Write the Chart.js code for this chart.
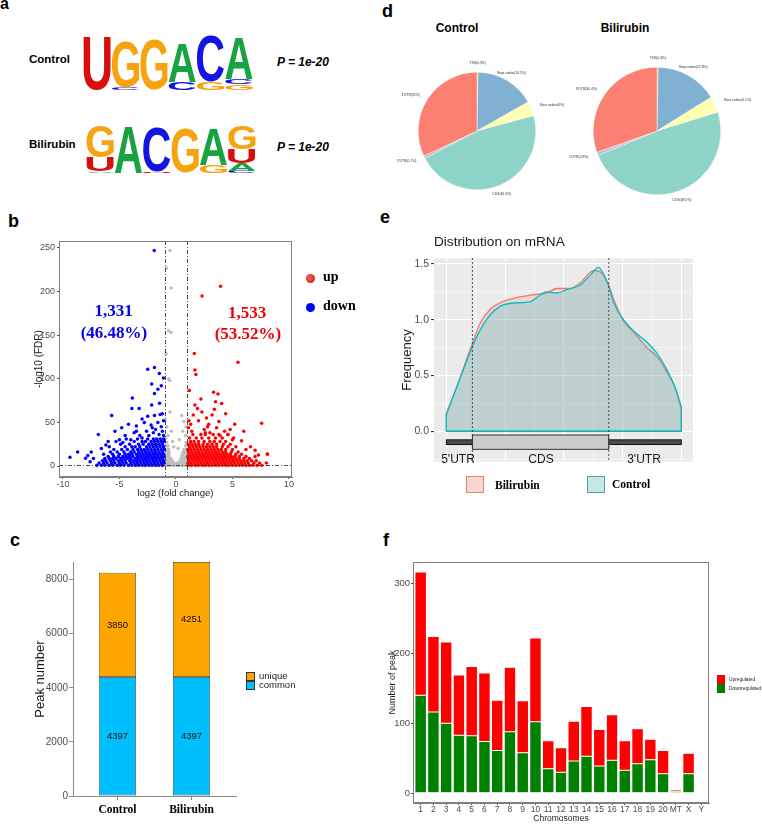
<!DOCTYPE html>
<html><head><meta charset="utf-8">
<script src="https://cdn.jsdelivr.net/npm/chart.js@4.4.1/dist/chart.umd.min.js"></script>
<style>
html,body{margin:0;padding:0;background:#fff;}
#page{position:relative;width:762px;height:824px;overflow:hidden;font-family:"Liberation Sans",Arial,sans-serif;color:#000;}
canvas{position:absolute;}
.t{position:absolute;white-space:nowrap;line-height:1;}
.c{transform:translate(-50%,-50%);}
.l{transform:translate(0,-50%);}
.pl{font-weight:bold;font-size:18px;}
.serif{font-family:"Liberation Serif","Times New Roman",serif;font-weight:bold;}
.box{position:absolute;box-sizing:border-box;}
</style></head><body><div id="page">

<!-- panel letters -->
<div class="t pl" style="left:0;top:-4px;font-size:16px">a</div>
<div class="t pl" style="left:8px;top:212px">b</div>
<div class="t pl" style="left:10px;top:531px">c</div>
<div class="t pl" style="left:382px;top:2px">d</div>
<div class="t pl" style="left:380px;top:208px">e</div>
<div class="t pl" style="left:383px;top:531px">f</div>

<!-- panel a texts -->
<div class="t l" style="left:29px;top:60px;font-weight:bold;font-size:11.5px">Control</div>
<div class="t l" style="left:29px;top:145px;font-weight:bold;font-size:11.5px">Bilirubin</div>
<div class="t l" style="left:277px;top:62px;font-weight:bold;font-style:italic;font-size:12px">P = 1e-20</div>
<div class="t l" style="left:277px;top:147px;font-weight:bold;font-style:italic;font-size:12px">P = 1e-20</div>
<canvas id="logoC" width="170" height="55" style="left:83px;top:35px"></canvas>
<canvas id="logoB" width="170" height="49" style="left:86px;top:124px"></canvas>

<!-- panel b -->
<canvas id="volcano" width="380" height="280" style="left:0;top:230px"></canvas>
<div class="t c serif" style="left:113.5px;top:310px;font-size:17px;color:#0000EE">1,331</div>
<div class="t c serif" style="left:114px;top:331.5px;font-size:17px;color:#0000EE">(46.48%)</div>
<div class="t c serif" style="left:247px;top:312px;font-size:17px;color:#EE0000">1,533</div>
<div class="t c serif" style="left:248px;top:333px;font-size:17px;color:#EE0000">(53.52%)</div>
<div class="box" style="left:305.5px;top:273.5px;width:9px;height:9px;border-radius:50%;background:radial-gradient(circle at 40% 40%,#ff5a5a,#cc1010)"></div>
<div class="box" style="left:305.5px;top:302.5px;width:9px;height:9px;border-radius:50%;background:#0000FF"></div>
<div class="t l serif" style="left:323px;top:277px;font-size:14px">up</div>
<div class="t l serif" style="left:323px;top:306px;font-size:14px">down</div>

<!-- panel c -->
<canvas id="peaks" width="380" height="284" style="left:0;top:540px"></canvas>
<div class="box" style="left:246px;top:672px;width:8.5px;height:9px;background:#FFA500;border:0.6px solid #333"></div>
<div class="box" style="left:246px;top:681px;width:8.5px;height:9px;background:#00BFFF;border:0.6px solid #333"></div>
<div class="t l" style="left:259px;top:676px;font-size:9.5px;color:#1a1a1a">unique</div>
<div class="t l" style="left:259px;top:685px;font-size:9.5px;color:#1a1a1a">common</div>

<!-- panel d -->
<div class="t c" style="left:457px;top:28px;font-weight:bold;font-size:12px">Control</div>
<div class="t c" style="left:625px;top:28px;font-weight:bold;font-size:12px">Bilirubin</div>
<canvas id="pieC" width="200" height="200" style="left:377px;top:31px"></canvas>
<canvas id="pieB" width="210" height="210" style="left:552px;top:26px"></canvas>

<!-- panel e -->
<div class="t l" style="left:434px;top:242px;font-size:13.6px;color:#1a1a1a">Distribution on mRNA</div>
<canvas id="mrna" width="320" height="220" style="left:380px;top:250px"></canvas>
<div class="t c" style="left:458px;top:459px;font-size:12px;color:#1a1a1a">5'UTR</div>
<div class="t c" style="left:541px;top:459px;font-size:12px;color:#1a1a1a">CDS</div>
<div class="t c" style="left:644px;top:459px;font-size:12px;color:#1a1a1a">3'UTR</div>
<div class="box" style="left:466px;top:476px;width:18px;height:17px;background:#F6D6D4;border:1.3px solid #F0845F"></div>
<div class="box" style="left:587px;top:476px;width:18px;height:17px;background:#C3E8E8;border:1.3px solid #5E9C9C"></div>
<div class="t l serif" style="left:495px;top:486px;font-size:11.5px">Bilirubin</div>
<div class="t l serif" style="left:612px;top:485px;font-size:11.5px">Control</div>

<!-- panel f -->
<canvas id="chrom" width="382" height="284" style="left:380px;top:540px"></canvas>
<div class="box" style="left:717px;top:675px;width:8px;height:9px;background:#FF0000"></div>
<div class="box" style="left:717px;top:684px;width:8px;height:9px;background:#008000"></div>
<div class="t l" style="left:729px;top:680px;font-size:4.8px;color:#222">Upregulated</div>
<div class="t l" style="left:729px;top:689px;font-size:4.8px;color:#222">Downregulated</div>

</div>
<script>
// ===================== DATA =====================
// a: sequence logos (letters stacked bottom -> top, heights in logo units)
const logoControlLetters   = [['U'], ['C','G'], ['G'], ['C','A'], ['G','C'], ['G','C','A']];
const logoControlHeights   = [[160], [8,137], [150], [25,115], [25,137], [17,15,125]];
const logoBilirubinLetters = [['A','U','G'], ['A'], ['U','C'], ['G'], ['G','A'], ['C','A','U','G']];
const logoBilirubinHeights = [[5,43,95], [140], [5,135], [135], [23,110], [7,22,42,72]];

// b: volcano plot points  [-log10 FDR row, log2FC values]
const downDenseRows = [
  [1,   [-7.0,-6.6,-6.3,-5.9,-5.6,-5.2,-4.9,-4.6,-4.2,-3.9,-3.6,-3.3,-3.0,-2.7,-2.4,-2.1,-1.8,-1.5,-1.2]],
  [3.5, [-6.8,-6.4,-6.1,-5.7,-5.4,-5.0,-4.7,-4.4,-4.0,-3.7,-3.4,-3.1,-2.8,-2.5,-2.2,-1.9,-1.6,-1.3,-1.05]],
  [6,   [-6.5,-6.2,-5.8,-5.5,-5.1,-4.8,-4.5,-4.1,-3.8,-3.5,-3.2,-2.9,-2.6,-2.3,-2.0,-1.7,-1.4,-1.1]],
  [8.5, [-7.3,-6.3,-5.9,-5.6,-5.3,-4.9,-4.6,-4.3,-4.0,-3.6,-3.3,-3.0,-2.7,-2.4,-2.1,-1.8,-1.5,-1.2]],
  [11,  [-6.0,-5.5,-5.1,-4.7,-4.4,-4.1,-3.8,-3.4,-3.1,-2.8,-2.5,-2.2,-1.9,-1.6,-1.3,-1.05]],
  [13.5,[-6.4,-5.6,-5.0,-4.5,-4.2,-3.9,-3.5,-3.2,-2.9,-2.6,-2.3,-2.0,-1.7,-1.4,-1.1]],
  [16,  [-5.8,-5.2,-4.6,-4.0,-3.7,-3.3,-3.0,-2.7,-2.4,-2.1,-1.8,-1.5,-1.2]],
  [19,  [-5.5,-4.8,-4.3,-3.8,-3.4,-3.1,-2.8,-2.5,-2.2,-1.9,-1.6,-1.3,-1.05]],
  [22,  [-5.9,-4.5,-3.9,-3.6,-3.2,-2.6,-2.3,-2.0,-1.7,-1.4,-1.1]],
  [25,  [-4.9,-4.1,-3.3,-2.9,-2.4,-2.1,-1.8,-1.5,-1.2]],
  [28,  [-5.3,-3.7,-3.0,-2.7,-2.2,-1.9,-1.6,-1.3,-1.05]],
  [31,  [-4.4,-3.4,-2.5,-2.0,-1.7,-1.4,-1.1]]
];
const downSparse = [[-1.92,247],[-2.5,111],[-1.9,113],[-1.47,106],[-1.11,101],[-2.15,94],[-1.6,88],[-1.3,92],
  [-3.86,78],[-1.9,83],[-1.45,72],[-2.15,70],[-3.9,66],[-3.26,66],[-5.69,58],[-3.0,54],[-2.5,57],[-1.9,58],
  [-1.4,59],[-1.2,60],[-4.2,48],[-4.8,44],[-5.4,40],[-6.87,36],[-2.8,50],[-3.5,46],[-2.2,47],[-1.6,50],[-1.3,45],
  [-1.1,52],[-3.7,38],[-2.6,40],[-1.8,42],[-4.5,35],[-3.2,35],[-2.0,38],[-1.2,40],[-5.0,30],[-6.0,28],[-4.0,30],
  [-3.0,32],[-2.4,35],[-1.5,36],[-8.7,16],[-9.38,10],[-7.8,12],[-7.5,16],[-6.6,20],[-8.0,9],[-7.6,5],[-6.2,24],
  [-4.7,27],[-3.5,40],[-2.1,44],[-1.1,35]];
const upDenseRows = [
  [1,   [1.1,1.4,1.7,2.0,2.3,2.6,2.9,3.2,3.5,3.8,4.1,4.4,4.7,5.0,5.3,5.6,5.9,6.2,6.5,6.8,7.2,7.6]],
  [3.5, [1.05,1.3,1.6,1.9,2.2,2.5,2.8,3.1,3.4,3.7,4.0,4.3,4.6,4.9,5.2,5.5,5.8,6.1,6.4,6.9,7.4,8.0]],
  [6,   [1.2,1.5,1.8,2.1,2.4,2.7,3.0,3.3,3.6,3.9,4.2,4.5,4.8,5.1,5.4,5.7,6.0,6.3,6.7,7.1]],
  [8.5, [1.1,1.4,1.7,2.0,2.3,2.6,2.9,3.2,3.5,3.8,4.1,4.4,4.7,5.0,5.3,5.6,6.0,6.5]],
  [11,  [1.05,1.3,1.6,1.9,2.2,2.5,2.8,3.1,3.4,3.7,4.0,4.3,4.6,4.9,5.2,5.6,6.2,7.0]],
  [13.5,[1.2,1.5,1.8,2.1,2.4,2.7,3.0,3.3,3.6,3.9,4.2,4.5,4.8,5.3,5.8,8.1]],
  [16,  [1.1,1.4,1.7,2.0,2.3,2.6,2.9,3.2,3.5,3.8,4.1,4.4,4.9,5.5]],
  [19,  [1.05,1.3,1.6,1.9,2.2,2.5,2.8,3.1,3.4,3.7,4.0,4.4,5.0,6.2]],
  [22,  [1.2,1.5,1.8,2.1,2.4,2.7,3.0,3.3,3.6,4.1,4.6,5.3]],
  [25,  [1.1,1.4,1.7,2.0,2.4,2.8,3.2,3.6,4.2,4.8]],
  [28,  [1.3,1.6,2.0,2.5,3.0,3.4,3.9,4.4]],
  [32,  [1.2,1.8,2.3,2.9,3.5,4.1,5.1]],
  [36,  [1.5,2.2,2.6,3.3,3.8,4.6]]
];
const upSparse = [[3.95,206],[2.3,195],[5.49,119],[1.62,129],[1.68,110],[1.77,105],[1.18,86.5],[3.33,84.5],
  [3.72,82.5],[2.21,76.8],[1.68,70],[3.5,73.7],[4.04,71.8],[7.58,49],[5.2,48],[5.8,29],[1.53,58.5],[2.3,62],
  [3.2,58.5],[3.8,51],[2.5,42],[1.3,48],[2.0,52],[2.8,45],[3.0,38],[4.3,40],[4.6,36],[1.4,40],[2.7,55],[3.6,44],
  [1.9,66],[3.4,65],[4.4,60],[1.15,52],[6.0,40],[2.9,48],[3.9,35],[5.0,30],[6.6,22],[7.3,12.7],[8.08,13.9],
  [7.0,18],[4.8,42],[1.1,44],[2.6,38]];
const nsDenseRows = [
  [0.4, [-7,-6,-5,-4.2,-3.5,-2.8,-2.2,-1.6,-1.2,1.3,1.8,2.4,3.0,3.7,4.5,5.3,6.2,7.1]],
  [1,   [-0.95,-0.8,-0.65,-0.5,-0.35,-0.2,-0.05,0.1,0.25,0.4,0.55,0.7,0.85,0.98]],
  [3.5, [-0.9,-0.75,-0.6,-0.45,-0.3,-0.15,0.15,0.3,0.45,0.6,0.75,0.9]],
  [6,   [-0.95,-0.8,-0.65,-0.5,-0.35,0.35,0.5,0.65,0.8,0.95]],
  [9,   [-0.9,-0.75,-0.6,-0.45,0.45,0.6,0.75,0.9]],
  [12,  [-0.95,-0.8,-0.65,0.55,0.7,0.85]],
  [15.5,[-0.9,-0.75,-0.6,0.6,0.8,0.95]],
  [19,  [-0.85,-0.65,0.7,0.9]],
  [23,  [-0.9,-0.7,0.85]],
  [27,  [-0.8,0.9]]
];
const nsSparse = [[-0.53,247],[-0.83,227],[-0.43,204],[-0.65,155],[-0.43,153],[-0.87,129],[-0.65,100],
  [-0.55,98],[-0.53,62],[0.5,58],[0.7,51],[-0.8,45],[-0.4,40],[0.6,40],[-0.7,35],[0.85,35],[-0.9,32],
  [0.3,30],[-0.3,28],[0.9,45],[-0.95,52],[-0.2,22],[0.2,20]];
const fcThresholds = [-1, 1];
const fdrThreshold = 1.3;
const volcanoXTicks = [-10, -5, 0, 5, 10];
const volcanoYTicks = [0, 50, 100, 150, 200, 250];

// c: peak numbers
const peakGroups  = ['Control', 'Bilirubin'];
const commonPeaks = [4397, 4397];
const uniquePeaks = [3850, 4251];
const peakYTicks  = [0, 2000, 4000, 6000, 8000];

// d: peak distribution (%)
const pieLabels       = ['TSS', 'Stop codon', 'Start codon', 'CDS', "5'UTR", "3'UTR"];
const pieControl      = [0.3, 16.5, 4, 46.5, 0.7, 32];
const pieBilirubin    = [0.3, 15.8, 4.1, 48.5, 0.8, 30.4];

// e: distribution on mRNA
const mrnaControlX   = [0,0.043,0.111,0.142,0.185,0.228,0.285,0.356,0.398,0.427,0.469,0.512,0.569,0.612,0.647,0.669,0.691,0.711,0.754,0.797,0.853,0.896,0.939,0.974,1.0];
const mrnaControlY   = [0.16,0.39,0.76,0.90,1.04,1.12,1.15,1.16,1.22,1.25,1.24,1.27,1.31,1.40,1.47,1.41,1.30,1.16,1.00,0.90,0.80,0.70,0.55,0.39,0.22];
const mrnaBilirubinX = [0,0.043,0.111,0.142,0.185,0.228,0.285,0.356,0.427,0.469,0.526,0.569,0.626,0.654,0.691,0.711,0.754,0.797,0.853,0.896,0.939,0.974,1.0];
const mrnaBilirubinY = [0.15,0.39,0.79,0.96,1.09,1.15,1.19,1.22,1.24,1.28,1.28,1.33,1.44,1.43,1.31,1.19,0.99,0.89,0.75,0.67,0.53,0.39,0.20];
const cdsBounds = [0.111, 0.691];
const mrnaXGrid = [0, 0.125, 0.25, 0.375, 0.5, 0.625, 0.75, 0.875, 1];
const mrnaYGrid = [-0.25, 0, 0.25, 0.5, 0.75, 1, 1.25, 1.5];

// f: peaks per chromosome
const chromosomes  = ['1','2','3','4','5','6','7','8','9','10','11','12','13','14','15','16','17','18','19','20','MT','X','Y'];
const downPeaks    = [140,116,100,83,82,74,61,88,58,102,35,30,46,53,39,47,33,42,48,28,3,28,0];
const upPeaks      = [176,108,116,86,99,98,72,92,74,120,40,35,57,71,52,65,42,50,29,33,2,29,2];
const chromYTicks  = [0, 100, 200, 300];

// ===================== RENDER =====================
Chart.defaults.animation = false;
Chart.defaults.events = [];
Chart.defaults.font.family = '"Liberation Sans", Arial, sans-serif';
Chart.defaults.plugins.legend.display = false;
Chart.defaults.plugins.tooltip.enabled = false;

const setTicks = arr => s => { s.ticks = arr.map(v => ({ value: v })); };
const logoColors = { A: '#16A340', C: '#1414E0', G: '#F7A30F', U: '#D90F0F' };

function makeLogoPlugin(letters) {
  return {
    id: 'logoLetters',
    afterDatasetsDraw(chart) {
      const ctx = chart.ctx;
      chart.data.datasets.forEach((ds, di) => {
        chart.getDatasetMeta(di).data.forEach((el, i) => {
          const letter = (letters[i] || [])[di];
          if (!letter) return;
          const p = el.getProps(['x', 'y', 'base', 'width'], true);
          const top = Math.min(p.y, p.base), h = Math.abs(p.base - p.y);
          if (h < 0.5) return;
          ctx.save();
          ctx.font = 'bold 100px "Liberation Sans", Arial, sans-serif';
          ctx.textAlign = 'left';
          ctx.textBaseline = 'alphabetic';
          const m = ctx.measureText(letter);
          const gw = m.actualBoundingBoxLeft + m.actualBoundingBoxRight;
          const gh = m.actualBoundingBoxAscent + m.actualBoundingBoxDescent;
          ctx.translate(p.x - p.width / 2, top + h);
          ctx.scale(p.width / gw, h / gh);
          ctx.fillStyle = logoColors[letter];
          ctx.fillText(letter, m.actualBoundingBoxLeft, -m.actualBoundingBoxDescent);
          ctx.restore();
        });
      });
    }
  };
}

function drawLogo(id, letters, heights, ymax) {
  const levels = Math.max(...heights.map(h => h.length));
  const datasets = [];
  for (let lv = 0; lv < levels; lv++) {
    datasets.push({ data: heights.map(h => h[lv] || 0), backgroundColor: 'rgba(0,0,0,0)',
      borderWidth: 0, barPercentage: 1, categoryPercentage: 0.96 });
  }
  new Chart(document.getElementById(id), {
    type: 'bar',
    data: { labels: letters.map((_, i) => String(i + 1)), datasets },
    options: { responsive: false, layout: { padding: 0 },
      scales: { x: { display: false, stacked: true }, y: { display: false, stacked: true, min: 0, max: ymax } } },
    plugins: [makeLogoPlugin(letters)]
  });
}
drawLogo('logoC', logoControlLetters, logoControlHeights, 165);
drawLogo('logoB', logoBilirubinLetters, logoBilirubinHeights, 147);

const frameBorder = {
  id: 'frameBorder',
  afterDraw(chart) {
    const { ctx, chartArea: a } = chart;
    ctx.save();
    ctx.strokeStyle = '#7F7F7F'; ctx.lineWidth = 1;
    ctx.strokeRect(Math.round(a.left) + 0.5, Math.round(a.top) + 0.5, Math.round(a.right - a.left) - 1, Math.round(a.bottom - a.top) - 1);
    ctx.restore();
  }
};

// ---- b: volcano ----
const rowsToPts = rows => rows.flatMap(([y, xs]) => xs.map(x => ({ x, y })));
const pairsToPts = pairs => pairs.map(([x, y]) => ({ x, y }));
const thresholdLines = {
  id: 'thresholdLines',
  afterDatasetsDraw(chart) {
    const { ctx, chartArea: a, scales: { x, y } } = chart;
    ctx.save();
    ctx.strokeStyle = '#333'; ctx.lineWidth = 0.9; ctx.setLineDash([4, 2, 1, 2]);
    fcThresholds.forEach(v => {
      const px = Math.round(x.getPixelForValue(v)) + 0.5;
      ctx.beginPath(); ctx.moveTo(px, a.top); ctx.lineTo(px, a.bottom); ctx.stroke();
    });
    const py = Math.round(y.getPixelForValue(fdrThreshold)) + 0.5;
    ctx.beginPath(); ctx.moveTo(a.left, py); ctx.lineTo(a.right, py); ctx.stroke();
    ctx.restore();
  }
};
new Chart(document.getElementById('volcano'), {
  type: 'scatter',
  data: { datasets: [
    { label: 'ns', data: [...rowsToPts(nsDenseRows), ...pairsToPts(nsSparse)], pointBackgroundColor: '#BEBEBE', order: 3 },
    { label: 'down', data: [...rowsToPts(downDenseRows), ...pairsToPts(downSparse)], pointBackgroundColor: '#0000FF', order: 2 },
    { label: 'up', data: [...rowsToPts(upDenseRows), ...pairsToPts(upSparse)], pointBackgroundColor: '#FF0000', order: 1 }
  ].map(d => Object.assign(d, { pointRadius: 1.75, pointBorderWidth: 0 })) },
  options: {
    responsive: false,
    layout: { padding: { top: 11, right: 88, left: 0, bottom: 0 } },
    scales: {
      x: { type: 'linear', min: -10.35, max: 10.27, bounds: 'data', afterBuildTicks: setTicks(volcanoXTicks),
        ticks: { callback: v => String(v), color: '#4D4D4D', font: { size: 9 }, padding: 0, maxRotation: 0 },
        grid: { display: true, drawOnChartArea: false, tickLength: 2, tickColor: '#4D4D4D' },
        border: { display: true, color: '#7F7F7F' },
        title: { display: true, text: 'log2 (fold change)', color: '#222', font: { size: 9.5 }, padding: { top: 0, bottom: 11 } },
        afterFit: s => { s.height = 33; } },
      y: { type: 'linear', min: -12.6, max: 258, bounds: 'data', afterBuildTicks: setTicks(volcanoYTicks),
        ticks: { callback: v => String(v), color: '#4D4D4D', font: { size: 9 }, padding: 2 },
        grid: { display: true, drawOnChartArea: false, tickLength: 2, tickColor: '#4D4D4D' },
        border: { display: true, color: '#7F7F7F' },
        title: { display: true, text: '-log10 (FDR)', color: '#222', font: { size: 10 }, padding: { top: 33, bottom: 0 } },
        afterFit: s => { s.width = 59; } }
    }
  },
  plugins: [thresholdLines, frameBorder]
});

// ---- c: stacked peaks ----
const segmentLabels = {
  id: 'segmentLabels',
  afterDatasetsDraw(chart) {
    const ctx = chart.ctx;
    ctx.save();
    ctx.fillStyle = '#111'; ctx.font = '9.5px "Liberation Sans", Arial, sans-serif';
    ctx.textAlign = 'center'; ctx.textBaseline = 'middle';
    chart.data.datasets.forEach((ds, di) => {
      chart.getDatasetMeta(di).data.forEach((el, i) => {
        const p = el.getProps(['x', 'y', 'base'], true);
        ctx.fillText(String(ds.data[i].y), p.x, (p.y + p.base) / 2);
      });
    });
    ctx.restore();
  }
};
new Chart(document.getElementById('peaks'), {
  type: 'bar',
  data: { datasets: [
    { label: 'common', data: peakGroups.map((g, i) => ({ x: i + 1, y: commonPeaks[i] })), backgroundColor: '#00BFFF' },
    { label: 'unique', data: peakGroups.map((g, i) => ({ x: i + 1, y: uniquePeaks[i] })), backgroundColor: '#FFA500' }
  ].map(d => Object.assign(d, { borderColor: '#333', borderWidth: 0.7, borderSkipped: false, barPercentage: 0.5, categoryPercentage: 1 })) },
  options: {
    responsive: false,
    layout: { padding: { top: 22, right: 144, left: 0, bottom: 0 } },
    scales: {
      x: { type: 'linear', min: 0.4, max: 2.6, bounds: 'data', offset: false, stacked: true,
        afterBuildTicks: s => { s.ticks = peakGroups.map((_, i) => ({ value: i + 1 })); },
        ticks: { callback: v => peakGroups[Math.round(v) - 1] || '', color: '#000', padding: 3, autoSkip: false, maxRotation: 0,
          font: { family: '"Liberation Serif", "Times New Roman", serif', weight: 'bold', size: 11.5 } },
        grid: { display: true, drawOnChartArea: false, offset: false, tickLength: 4, tickColor: '#8a8a8a' },
        border: { display: true, color: '#8a8a8a' },
        afterFit: s => { s.height = 28; } },
      y: { stacked: true, min: 0, max: 8648, bounds: 'data', afterBuildTicks: setTicks(peakYTicks),
        ticks: { callback: v => String(v), color: '#4D4D4D', font: { size: 10 }, padding: 1 },
        grid: { display: true, drawOnChartArea: false, tickLength: 4, tickColor: '#8a8a8a' },
        border: { display: true, color: '#8a8a8a' },
        title: { display: true, text: 'Peak number', color: '#1a1a1a', font: { size: 13 }, padding: { top: 33, bottom: 0 } },
        afterFit: s => { s.width = 73; } }
    }
  },
  plugins: [segmentLabels]
});

// ---- d: pies ----
const pieColors = ['#FDB462', '#80B1D3', '#FFFFB3', '#8DD3C7', '#BEBADA', '#FB8072'];
function makePieLabelPlugin(labels, values) {
  return {
    id: 'pieLabels',
    afterDatasetsDraw(chart) {
      const ctx = chart.ctx;
      ctx.save();
      ctx.fillStyle = '#333'; ctx.font = '3.4px "Liberation Sans", Arial, sans-serif';
      ctx.textBaseline = 'middle';
      chart.getDatasetMeta(0).data.forEach((el, i) => {
        const p = el.getProps(['x', 'y', 'startAngle', 'endAngle', 'outerRadius'], true);
        const mid = (p.startAngle + p.endAngle) / 2;
        const R = p.outerRadius * 1.15;
        const c = Math.cos(mid);
        ctx.textAlign = c > 0.55 ? 'left' : (c < -0.55 ? 'right' : 'center');
        ctx.fillText(labels[i] + '(' + values[i] + '%)', p.x + c * R, p.y + Math.sin(mid) * R);
      });
      ctx.restore();
    }
  };
}
function drawPie(id, values) {
  new Chart(document.getElementById(id), {
    type: 'pie',
    data: { labels: pieLabels, datasets: [{ data: values, backgroundColor: pieColors, borderColor: '#ffffff',
      borderWidth: 0.4, hoverOffset: 0, offset: 0 }] },
    options: { responsive: false, layout: { padding: 41 } },
    plugins: [makePieLabelPlugin(pieLabels, values)]
  });
}
drawPie('pieC', pieControl);
drawPie('pieB', pieBilirubin);

// ---- e: distribution on mRNA ----
const isStep = (v, k) => v !== undefined && v !== null && Math.abs(v * k - Math.round(v * k)) < 1e-6;
const ggBackground = {
  id: 'ggBackground',
  beforeDraw(chart) {
    const { ctx, chartArea: a } = chart;
    ctx.save(); ctx.fillStyle = '#EBEBEB'; ctx.fillRect(a.left, a.top, a.right - a.left, a.bottom - a.top); ctx.restore();
  }
};
const geneModel = {
  id: 'geneModel',
  afterDatasetsDraw(chart) {
    const { ctx, chartArea: a, scales: { x, y } } = chart;
    const x0 = x.getPixelForValue(mrnaControlX[0]), x1 = x.getPixelForValue(mrnaControlX[mrnaControlX.length - 1]);
    const c0 = x.getPixelForValue(cdsBounds[0]), c1 = x.getPixelForValue(cdsBounds[1]);
    ctx.save();
    const u0 = y.getPixelForValue(-0.077), u1 = y.getPixelForValue(-0.119);
    ctx.fillStyle = '#4D4D4D'; ctx.strokeStyle = '#111'; ctx.lineWidth = 1;
    ctx.fillRect(x0, u0, x1 - x0, u1 - u0); ctx.strokeRect(x0, u0, x1 - x0, u1 - u0);
    const b0 = y.getPixelForValue(-0.034), b1 = y.getPixelForValue(-0.162);
    ctx.fillStyle = '#CCCCCC'; ctx.strokeStyle = '#333';
    ctx.fillRect(c0, b0, c1 - c0, b1 - b0); ctx.strokeRect(c0, b0, c1 - c0, b1 - b0);
    ctx.strokeStyle = '#333'; ctx.lineWidth = 1.1; ctx.setLineDash([1.5, 2.5]);
    [c0, c1].forEach(px => { ctx.beginPath(); ctx.moveTo(px, a.top); ctx.lineTo(px, a.bottom); ctx.stroke(); });
    ctx.restore();
  }
};
const xyPts = (xs, ys) => xs.map((x, i) => ({ x, y: ys[i] }));
const edgePts = (xs, ys) => [{ x: xs[0], y: ys[0] }, { x: xs[0], y: 0 }, { x: xs[xs.length - 1], y: 0 }, { x: xs[xs.length - 1], y: ys[ys.length - 1] }];
new Chart(document.getElementById('mrna'), {
  type: 'line',
  data: { datasets: [
    { label: 'Control', data: xyPts(mrnaControlX, mrnaControlY), borderColor: '#00BFC4', backgroundColor: 'rgba(0,191,196,0.2)', fill: 'origin', cubicInterpolationMode: 'monotone', order: 1 },
    { label: 'Control edge', data: edgePts(mrnaControlX, mrnaControlY), borderColor: '#00BFC4', fill: false, tension: 0, order: 1 },
    { label: 'Bilirubin', data: xyPts(mrnaBilirubinX, mrnaBilirubinY), borderColor: '#F8766D', backgroundColor: 'rgba(248,118,109,0.2)', fill: 'origin', cubicInterpolationMode: 'monotone', order: 2 },
    { label: 'Bilirubin edge', data: edgePts(mrnaBilirubinX, mrnaBilirubinY), borderColor: '#F8766D', fill: false, tension: 0, order: 2 }
  ].map(d => Object.assign(d, { pointRadius: 0, borderWidth: 1.3 })) },
  options: {
    responsive: false,
    layout: { padding: { top: 4, right: 7, left: 0, bottom: 2 } },
    scales: {
      x: { type: 'linear', min: -0.0526, max: 1.0498, bounds: 'data', afterBuildTicks: setTicks(mrnaXGrid),
        ticks: { display: false },
        grid: { color: '#FFFFFF', lineWidth: ctx => isStep(ctx.tick && ctx.tick.value, 4) ? 1.1 : 0.5, drawTicks: false },
        border: { display: false },
        afterFit: s => { s.height = 0; } },
      y: { type: 'linear', min: -0.273, max: 1.551, bounds: 'data', afterBuildTicks: setTicks(mrnaYGrid),
        ticks: { color: '#4D4D4D', font: { size: 10.5 }, padding: 2,
          callback: v => (isStep(v, 2) && v >= 0) ? v.toFixed(1) : '' },
        grid: { color: '#FFFFFF', lineWidth: ctx => isStep(ctx.tick && ctx.tick.value, 2) ? 1.1 : 0.5, tickLength: 3,
          tickColor: ctx => (ctx.tick && isStep(ctx.tick.value, 2) && ctx.tick.value >= 0) ? '#333' : 'rgba(0,0,0,0)' },
        border: { display: false },
        title: { display: true, text: 'Frequency', color: '#1a1a1a', font: { size: 13 }, padding: { top: 20, bottom: 0 } },
        afterFit: s => { s.width = 54; } }
    }
  },
  plugins: [ggBackground, geneModel]
});

// ---- f: chromosomes ----
new Chart(document.getElementById('chrom'), {
  type: 'bar',
  data: { datasets: [
    { label: 'Downregulated', data: chromosomes.map((c, i) => ({ x: i + 1, y: downPeaks[i] })), backgroundColor: '#008000' },
    { label: 'Upregulated', data: chromosomes.map((c, i) => ({ x: i + 1, y: upPeaks[i] })), backgroundColor: '#FF0000' }
  ].map(d => Object.assign(d, { borderColor: 'rgba(255,255,255,0.55)', borderWidth: 0.5, borderSkipped: false, barPercentage: 0.9, categoryPercentage: 1 })) },
  options: {
    responsive: false,
    layout: { padding: { top: 22, right: 53, left: 0, bottom: 0 } },
    scales: {
      x: { type: 'linear', min: 0.4, max: 23.6, bounds: 'data', offset: false, stacked: true,
        afterBuildTicks: s => { s.ticks = chromosomes.map((_, i) => ({ value: i + 1 })); },
        ticks: { callback: v => chromosomes[Math.round(v) - 1] || '', color: '#4D4D4D', font: { size: 8.5 }, padding: 0, autoSkip: false, maxRotation: 0 },
        grid: { display: true, drawOnChartArea: false, offset: false, tickLength: 2, tickColor: '#4D4D4D' },
        border: { display: true, color: '#7F7F7F' },
        title: { display: true, text: 'Chromosomes', color: '#1a1a1a', font: { size: 8.5 }, padding: { top: 0, bottom: 0 } },
        afterFit: s => { s.height = 21; } },
      y: { stacked: true, min: -13.9, max: 330.4, bounds: 'data', afterBuildTicks: setTicks(chromYTicks),
        ticks: { callback: v => String(v), color: '#4D4D4D', font: { size: 9.5 }, padding: 1 },
        grid: { display: true, drawOnChartArea: false, tickLength: 2, tickColor: '#4D4D4D' },
        border: { display: true, color: '#7F7F7F' },
        title: { display: true, text: 'Number of peak', color: '#1a1a1a', font: { size: 9 }, padding: { top: 7, bottom: 0 } },
        afterFit: s => { s.width = 33; } }
    }
  },
  plugins: [frameBorder]
});
</script></body></html>
